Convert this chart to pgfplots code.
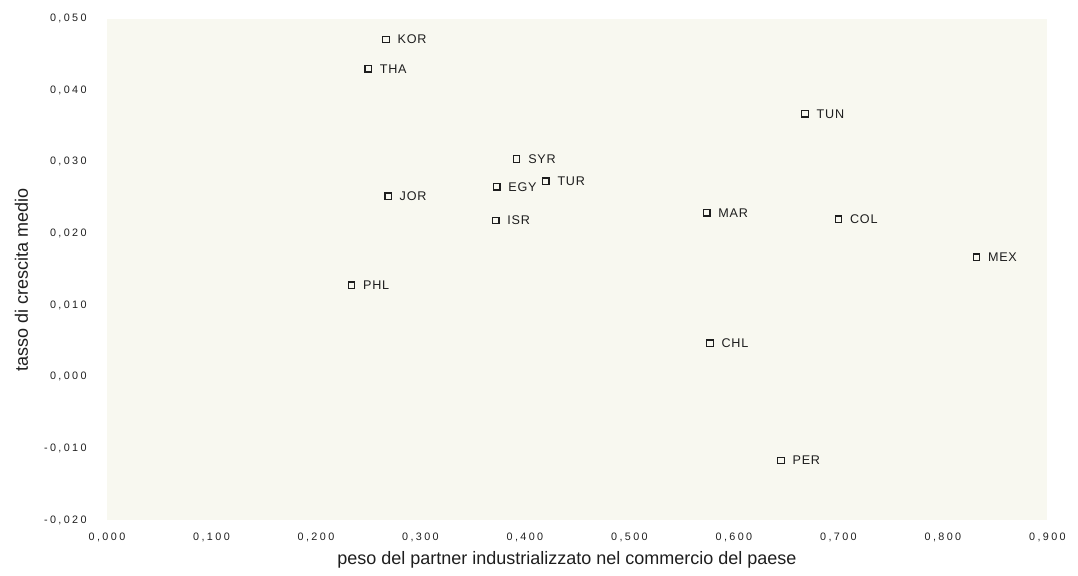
\documentclass[border=0pt]{standalone}
\usepackage{pgfplots}
\pgfplotsset{compat=1.18}
\usepackage{fontspec}
\setmainfont{Liberation Sans}
\newfontfamily\tickfont{Liberation Sans}[LetterSpace=22]
\newfontfamily\ptfont{Liberation Sans}[LetterSpace=6]
\definecolor{cream}{RGB}{248,248,240}
\definecolor{ink}{RGB}{30,30,30}
\begin{document}
\begin{tikzpicture}
\useasboundingbox (-53.5pt,-27.5pt) rectangle (485.5pt,260pt);
\begin{axis}[
  scale only axis,
  width=470.25pt, height=250.7pt,
  xmin=0, xmax=0.9, ymin=-0.02, ymax=0.05,
  axis background/.style={fill=cream},
  axis line style={draw=none},
  tick style={draw=none},
  xtick={0,0.1,0.2,0.3,0.4,0.5,0.6,0.7,0.8,0.9},
  xticklabels={{0,000},{0,100},{0,200},{0,300},{0,400},{0,500},{0,600},{0,700},{0,800},{0,900}},
  ytick={-0.02,-0.01,0,0.01,0.02,0.03,0.04,0.05},
  yticklabels={{-0,020},{-0,010},{0,000},{0,010},{0,020},{0,030},{0,040},{0,050}},
  scaled x ticks=false, scaled y ticks=false,
  xticklabel style={font=\tickfont\fontsize{5.4pt}{6pt}\selectfont, text=ink, inner sep=0pt, anchor=north, yshift=-6.5pt},
  yticklabel style={font=\tickfont\fontsize{5.4pt}{6pt}\selectfont, text=ink, inner sep=0pt, anchor=east, xshift=-10pt},
  xlabel={peso del partner industrializzato nel commercio del paese},
  ylabel={tasso di crescita medio},
  xlabel style={font=\fontsize{9pt}{11pt}\selectfont, text=ink, at={(axis description cs:0.489,-0.0897)}, anchor=base},
  ylabel style={font=\fontsize{9pt}{11pt}\selectfont, text=ink, at={(axis description cs:-0.084,0.479)}, anchor=base, rotate=0},
  clip=false,
]
\addplot[only marks, mark=square, mark size=1.6pt, mark options={line width=0.65pt, draw=ink},
  nodes near coords, point meta=explicit symbolic,
  every node near coord/.append style={anchor=west, xshift=5.5pt, inner sep=0pt, font=\ptfont\fontsize{6.3pt}{7pt}\selectfont, text=ink}]
table[meta=label] {
x y label
0.267 0.0471 KOR
0.250 0.0430 THA
0.668 0.0367 TUN
0.392 0.0304 SYR
0.373 0.0265 EGY
0.420 0.0273 TUR
0.269 0.0252 JOR
0.372 0.0218 ISR
0.574 0.0229 MAR
0.700 0.0220 COL
0.832 0.0167 MEX
0.234 0.0128 PHL
0.577 0.0047 CHL
0.645 -0.0117 PER
};
\end{axis}
\end{tikzpicture}
\end{document}
